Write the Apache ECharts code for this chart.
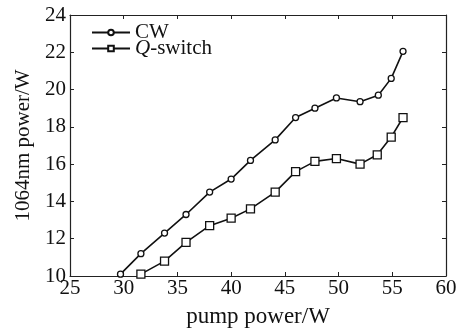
<!DOCTYPE html>
<html>
<head>
<meta charset="utf-8">
<script src="https://cdn.jsdelivr.net/npm/echarts@6/dist/echarts.min.js"></script>
<style>
	html, body { margin: 0; padding: 0; background: #fff; }
	#chart { width: 466px; height: 333px; }
</style>
</head>
<body>
<div id="chart"></div>
<script>
// values
const cwPump = [29.7, 31.6, 33.8, 35.8, 38.0, 40.0, 41.8, 44.1, 46.0, 47.8, 49.8, 52.0, 53.7, 54.9, 56.0];
const cwPower = [10.1, 11.2, 12.3, 13.3, 14.5, 15.2, 16.2, 17.3, 18.5, 19.0, 19.55, 19.35, 19.7, 20.6, 22.05];
const qPump = [31.6, 33.8, 35.8, 38.0, 40.0, 41.8, 44.1, 46.0, 47.8, 49.8, 52.0, 53.6, 54.9, 56.0];
const qPower = [10.1, 10.8, 11.8, 12.7, 13.1, 13.6, 14.5, 15.6, 16.15, 16.3, 16.0, 16.5, 17.45, 18.5];

const font = "Liberation Serif";
const axisColor = "#222";

const zip = (xs, ys) => xs.map((x, i) => [x, ys[i]]);

const chart = echarts.init(document.getElementById("chart"));

const boxAxis = {
	axisLine: { show: true, onZero: false, lineStyle: { color: axisColor, width: 1.2 } },
	axisTick: { show: true, inside: true, length: 4, lineStyle: { color: axisColor } },
	splitLine: { show: false },
};

chart.setOption({
	animation: false,
	grid: { left: 70, right: 20, top: 15, bottom: 56 },
	legend: {
		orient: "vertical",
		left: 86,
		top: 17,
		itemWidth: 38,
		itemHeight: 7,
		itemGap: -5,
		textStyle: {
			fontFamily: font,
			fontSize: 21,
			color: "#111",
			rich: { i: { fontFamily: font, fontSize: 21, fontStyle: "italic", color: "#111" } },
		},
		formatter: name => (name === "Q-switch" ? "{i|Q}-switch" : name),
		data: ["CW", "Q-switch"],
	},
	xAxis: [
		{
			...boxAxis,
			type: "value",
			min: 25,
			max: 60,
			interval: 5,
			name: "pump power/W",
			nameLocation: "middle",
			nameGap: 29,
			nameTextStyle: { fontFamily: font, fontSize: 23, color: "#111" },
			axisLabel: { fontFamily: font, fontSize: 21, color: "#111", margin: 2 },
		},
		{
			...boxAxis,
			type: "value",
			position: "top",
			min: 25,
			max: 60,
			interval: 5,
			axisLabel: { show: false },
		},
	],
	yAxis: [
		{
			...boxAxis,
			type: "value",
			min: 10,
			max: 24,
			interval: 2,
			name: "1064nm power/W",
			nameLocation: "middle",
			nameGap: 34,
			nameTextStyle: { fontFamily: font, fontSize: 21, color: "#111" },
			axisLabel: { fontFamily: font, fontSize: 21, color: "#111", margin: 4 },
		},
		{
			...boxAxis,
			type: "value",
			position: "right",
			min: 10,
			max: 24,
			interval: 2,
			axisLabel: { show: false },
		},
	],
	series: [
		{
			name: "CW",
			type: "line",
			data: zip(cwPump, cwPower),
			symbol: "circle",
			symbolSize: 6,
			itemStyle: { color: "#fff", borderColor: "#111", borderWidth: 1.3 },
			lineStyle: { color: "#111", width: 1.6 },
		},
		{
			name: "Q-switch",
			type: "line",
			data: zip(qPump, qPower),
			symbol: "rect",
			symbolSize: 8,
			itemStyle: { color: "#fff", borderColor: "#111", borderWidth: 1.3 },
			lineStyle: { color: "#111", width: 1.6 },
		},
	],
});
</script>
</body>
</html>
